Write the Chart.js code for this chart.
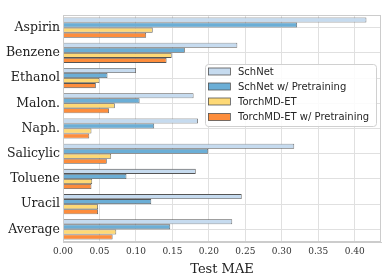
<!DOCTYPE html>
<html>
<head>
<meta charset="UTF-8" />
<script src="https://cdn.jsdelivr.net/npm/chart.js"></script>
<style>
  html, body { margin: 0; padding: 0; background: #fff; }
  #wrap { width: 387px; height: 277px; }
</style>
</head>
<body>
<div id="wrap"><canvas id="c" width="387" height="277"></canvas></div>
<script>
// data
const molecules = ["Aspirin", "Benzene", "Ethanol", "Malon.", "Naph.", "Salicylic", "Toluene", "Uracil", "Average"];
const schnet = [0.416, 0.239, 0.100, 0.179, 0.185, 0.317, 0.182, 0.245, 0.232];
const schnetPre = [0.321, 0.167, 0.061, 0.105, 0.125, 0.199, 0.087, 0.121, 0.147];
const torchmd = [0.123, 0.149, 0.050, 0.071, 0.039, 0.066, 0.040, 0.048, 0.073];
const torchmdPre = [0.114, 0.142, 0.045, 0.063, 0.036, 0.060, 0.039, 0.048, 0.068];
const seriesNames = ["SchNet", "SchNet w/ Pretraining", "TorchMD-ET", "TorchMD-ET w/ Pretraining"];
const seriesColors = ["#c6dbef", "#6baed6", "#fed976", "#fd8d3c"];
const xMax = 0.436;

const serif = "'DejaVu Serif', serif";
const sans = "'DejaVu Sans', sans-serif";

// frame round the plot area + legend inside it
const framePlugin = {
  id: "frame",
  afterDraw(chart) {
    const ctx = chart.ctx;
    const a = chart.chartArea;
    ctx.save();
    ctx.strokeStyle = "#cccccc";
    ctx.lineWidth = 1;
    ctx.strokeRect(a.left + 0.5, a.top + 0.5, a.right - a.left - 1, a.bottom - a.top - 1);

    // legend
    const lx = 205, ly = 64, lw = 171, lh = 62;
    ctx.fillStyle = "rgba(255,255,255,0.85)";
    ctx.strokeStyle = "#d0d0d0";
    ctx.beginPath();
    ctx.roundRect(lx + 0.5, ly + 0.5, lw, lh, 3);
    ctx.fill();
    ctx.stroke();
    ctx.font = "10px " + sans;
    ctx.textBaseline = "middle";
    const rows = [71.5, 86.5, 101.5, 117];
    chart.data.datasets.forEach((ds, i) => {
      ctx.fillStyle = ds.backgroundColor;
      ctx.fillRect(208, rows[i] - 3.5, 22, 7);
      ctx.strokeStyle = "#555";
      ctx.lineWidth = 0.8;
      ctx.strokeRect(208.5, rows[i] - 3.5, 22, 7);
      ctx.fillStyle = "#262626";
      ctx.fillText(ds.label, 238, rows[i] + 0.5);
    });
    ctx.restore();
  }
};

const seriesData = [schnet, schnetPre, torchmd, torchmdPre];

new Chart(document.getElementById("c"), {
  type: "bar",
  data: {
    labels: molecules,
    datasets: seriesData.map((d, i) => ({
      label: seriesNames[i],
      data: d,
      backgroundColor: seriesColors[i],
      borderColor: "#555555",
      borderWidth: 0.8,
      categoryPercentage: 0.8,
      barPercentage: 1.0
    }))
  },
  options: {
    indexAxis: "y",
    responsive: false,
    animation: false,
    layout: { padding: { left: 0, right: 6, top: 15, bottom: 0 } },
    plugins: { legend: { display: false }, tooltip: { enabled: false } },
    scales: {
      x: {
        min: 0,
        max: xMax,
        grid: { color: "#e0e0e0", lineWidth: 1, drawTicks: false },
        border: { color: "#cccccc" },
        ticks: {
          stepSize: 0.05,
          includeBounds: false,
          padding: 4,
          color: "#333",
          font: { family: serif, size: 9 },
          callback: v => v.toFixed(2)
        },
        title: {
          display: true,
          text: "Test MAE",
          color: "#222",
          font: { family: serif, size: 13 },
          padding: { top: 0, bottom: 0 }
        },
        afterFit(scale) { scale.height = 35; }
      },
      y: {
        grid: { color: "#e0e0e0", lineWidth: 1, offset: false, drawTicks: false },
        border: { color: "#cccccc" },
        ticks: {
          padding: 3,
          color: "#222",
          font: { family: serif, size: 12.5 }
        },
        afterFit(scale) { scale.width = 63; }
      }
    }
  },
  plugins: [framePlugin]
});
</script>
</body>
</html>
